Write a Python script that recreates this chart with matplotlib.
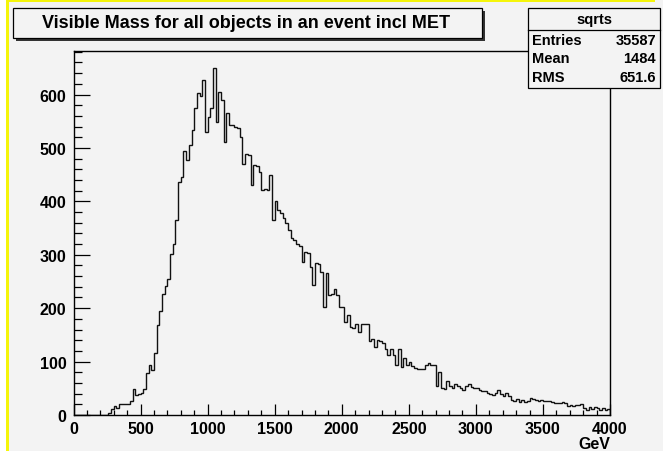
import numpy as np
import matplotlib
matplotlib.use("Agg")
import matplotlib.pyplot as plt
from matplotlib.patches import Rectangle
from matplotlib.ticker import MultipleLocator

# Histogram "sqrts": 200 bins of 20 GeV from 0 to 4000 GeV
bin_low = 0.0
bin_high = 4000.0
n_bins = 200

counts = [
    0, 0, 0, 0, 0, 0, 0, 0, 0, 0, 0, 0, 0,          # 0 - 260
    4, 11, 17, 13, 21, 21, 21, 21, 26, 49,          # 260 - 460
    38, 39, 41, 49, 78, 94, 84, 116, 168, 194,      # 460 - 660
    227, 241, 255, 301, 320, 365, 437, 446, 494, 477,   # 660 - 860
    505, 533, 575, 602, 598, 628, 529, 557, 575, 649,   # 860 - 1060
    548, 604, 590, 512, 566, 543, 543, 540, 538, 521,   # 1060 - 1260
    469, 488, 487, 430, 468, 466, 455, 421, 424, 421,   # 1260 - 1460
    449, 365, 400, 383, 378, 368, 360, 346, 332, 328,   # 1460 - 1660
    320, 316, 286, 305, 303, 277, 243, 284, 283, 268,   # 1660 - 1860
    202, 266, 225, 226, 235, 225, 202, 202, 175, 188,   # 1860 - 2060
    164, 163, 170, 156, 171, 170, 170, 138, 142, 127,   # 2060 - 2260
    141, 138, 135, 124, 113, 124, 113, 93, 124, 89,     # 2260 - 2460
    106, 93, 99, 92, 88, 86, 87, 86, 93, 98,            # 2460 - 2660
    93, 93, 55, 80, 50, 49, 63, 55, 50, 58,             # 2660 - 2860
    55, 50, 46, 54, 58, 52, 50, 50, 46, 45,             # 2860 - 3060
    44, 41, 39, 38, 42, 46, 39, 35, 41, 35,             # 3060 - 3260
    29, 27, 30, 25, 29, 25, 27, 32, 30, 29,             # 3260 - 3460
    27, 28, 27, 27, 27, 24, 23, 23, 23, 25,             # 3460 - 3660
    23, 16, 19, 16, 18, 19, 20, 14, 10, 15,             # 3660 - 3860
    12, 15, 14, 10, 14, 10, 11,                         # 3860 - 4000
]

x_ticks = [0, 500, 1000, 1500, 2000, 2500, 3000, 3500, 4000]
y_ticks = [0, 100, 200, 300, 400, 500, 600]

title = "Visible Mass for all objects in an event incl MET"
x_unit = "GeV"
stats_name = "sqrts"
stats_rows = [("Entries", "35587"), ("Mean", "1484"), ("RMS", "651.6")]

W, H = 663, 456
BG = "#f3f3f3"
YELLOW = "#f5f50a"
FONT = ["Liberation Sans", "DejaVu Sans"]

plt.rcParams["font.family"] = FONT
plt.rcParams["font.weight"] = "bold"

fig = plt.figure(figsize=(W / 100, H / 100), dpi=100)
fig.patch.set_facecolor(BG)


def px_rect(x0, y0, x1, y1, **kw):
    """Rectangle given in pixel coordinates measured from the top-left corner."""
    return Rectangle((x0 / W, 1 - y1 / H), (x1 - x0) / W, (y1 - y0) / H,
                     transform=fig.transFigure, **kw)


# white margin and highlight border around the canvas
fig.patches.append(px_rect(0, 0, 6, H, facecolor="white", edgecolor="none", zorder=1))
fig.patches.append(px_rect(0, 452, W, H, facecolor="white", edgecolor="none", zorder=1))
fig.patches.append(px_rect(6, 0, 9, 452, facecolor=YELLOW, edgecolor="none", zorder=1))
fig.patches.append(px_rect(6, 0, W - 8, 3, facecolor=YELLOW, edgecolor="none", zorder=1))

# frame
fl, fr, ft, fb = 73.5, 610.0, 52.0, 416.0
ax = fig.add_axes([fl / W, 1 - fb / H, (fr - fl) / W, (fb - ft) / H])
ax.set_facecolor(BG)

edges = np.linspace(bin_low, bin_high, n_bins + 1)
ax.stairs(counts, edges, color="#111111", linewidth=1.0, baseline=0)

ax.set_xlim(bin_low, bin_high)
ax.set_ylim(0, 1.05 * max(counts))
ax.set_xticks(x_ticks)
ax.set_yticks(y_ticks)
ax.xaxis.set_minor_locator(MultipleLocator(100))
ax.yaxis.set_minor_locator(MultipleLocator(20))
ax.tick_params(axis="x", which="major", direction="in", length=11 * 0.72, width=0.9,
               labelsize=11.5, pad=4, top=False)
ax.tick_params(axis="x", which="minor", direction="in", length=5.5 * 0.72, width=0.9, top=False)
ax.tick_params(axis="y", which="major", direction="in", length=16 * 0.72, width=0.9,
               labelsize=11.5, pad=5, right=False)
ax.tick_params(axis="y", which="minor", direction="in", length=8 * 0.72, width=0.9, right=False)
for lab in ax.get_xticklabels() + ax.get_yticklabels():
    lab.set_fontweight("bold")
for sp in ax.spines.values():
    sp.set_linewidth(1.0)
    sp.set_color("black")

fig.text(fr / W, 1 - 445 / H, x_unit, ha="right", va="center",
         fontsize=11.5, fontweight="bold")

# title pave with shadow
fig.patches.append(px_rect(16, 12, 485, 42, facecolor="#333333", edgecolor="none", zorder=3))
fig.patches.append(px_rect(13, 9, 482, 39, facecolor=BG, edgecolor="black", linewidth=0.9, zorder=4))
fig.text(246 / W, 1 - 23 / H, title, ha="center", va="center",
         fontsize=13, fontweight="bold", zorder=5)

# statistics box
sx0, sx1, sy0, sy1 = 528, 660, 9, 89
fig.patches.append(px_rect(sx0, sy0, sx1, sy1, facecolor=BG, edgecolor="black",
                           linewidth=0.9, zorder=4))
fig.lines.append(plt.Line2D([sx0 / W, sx1 / W], [1 - 31 / H, 1 - 31 / H],
                            transform=fig.transFigure, color="black", linewidth=0.9, zorder=5))
fig.text((sx0 + sx1) / 2 / W, 1 - 20 / H, stats_name, ha="center", va="center",
         fontsize=10.5, fontweight="bold", zorder=5)
for i, (k, v) in enumerate(stats_rows):
    yy = 1 - (41 + 18.5 * i) / H
    fig.text((sx0 + 4) / W, yy, k, ha="left", va="center", fontsize=10.5,
             fontweight="bold", zorder=5)
    fig.text((sx1 - 4) / W, yy, v, ha="right", va="center", fontsize=10.5,
             fontweight="bold", zorder=5)

fig.savefig("out.png", dpi=100, facecolor=fig.get_facecolor())
